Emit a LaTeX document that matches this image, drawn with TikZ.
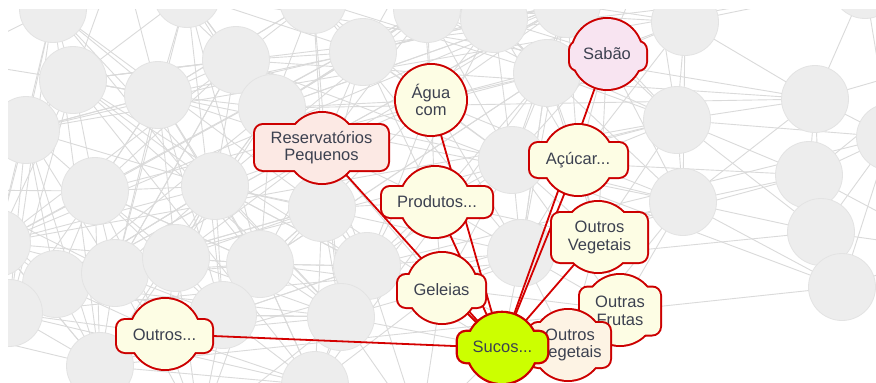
\documentclass[tikz,border=0pt]{standalone}
\usepackage{fontspec}
\setmainfont{Liberation Sans}
\usetikzlibrary{calc}
\definecolor{gfill}{HTML}{EDEDED}
\definecolor{gline}{HTML}{E3E3E3}
\definecolor{gedge}{HTML}{DADADA}
\definecolor{hlred}{HTML}{CC0000}
\definecolor{redge}{HTML}{D40000}
\definecolor{txtcol}{HTML}{3C4150}
\definecolor{fyellow}{HTML}{FDFDE4}
\definecolor{fpink}{HTML}{FCE9E4}
\definecolor{flilac}{HTML}{F8E4F1}
\definecolor{fpeach}{HTML}{FDF3E4}
\definecolor{fsucos}{HTML}{CCFF00}
\tikzset{
  grayedge/.style={draw=gedge, line width=0.9pt},
  graynode/.style={circle, minimum size=67pt, inner sep=0pt, fill=gfill, draw=gline, line width=0.8pt},
  rededge/.style={draw=redge, line width=1.8pt},
  hltext/.style={font=\fontsize{16.5}{17.5}\selectfont, text=txtcol, align=center, inner sep=0pt},
}
% #1 name, #2 box centre x, #3 box centre y, #4 half width, #5 half height, #6 fill, #7 border width
\newcommand\hlshape[7]{%
  \path[draw=hlred, line width=#7] (#1) circle[radius=35pt];
  \path[draw=hlred, line width=#7, rounded corners=8pt] ({#2-#4},{#3-#5}) rectangle ({#2+#4},{#3+#5});
  \path[fill=#6] (#1) circle[radius=35pt];
  \path[fill=#6, rounded corners=8pt] ({#2-#4},{#3-#5}) rectangle ({#2+#4},{#3+#5});
}
\def\glist{1/53/9,2/187/-6,3/73/80,4/158/95,5/236/60,6/272/108,7/26/130,8/95/191,9/215/186,10/-3/243,11/56/284,12/115/273,13/176/258,14/260/264,15/223/315,16/100/366,17/9/313,18/313/0,19/363/52,20/427/9,21/494/19,22/547/73,23/567/4,24/322/208,25/367/266,26/341/317,27/315/385,28/512/160,29/521/253,30/685/22,31/677/120,32/683/202,33/815/99,34/809/175,35/821/232,36/842/287,37/890/137,38/865/-15}
\def\olist{39/120/-50,40/420/-50,41/-50/60,42/-50/190,43/-50/330,44/200/430,45/650/-50,46/950/60,47/950/250,48/420/430,51/607/54,52/431/100,53/322/148,54/578/160,55/435/202,56/598/237,57/442/288,58/620/310,59/568/345,60/502/348,61/165/334}
\edef\alllist{\glist,\olist}
\begin{document}
\begin{tikzpicture}[x=1pt,y=-1pt]
\useasboundingbox (0,0) rectangle (876,383);
\fill[white] (0,0) rectangle (876,383);
\foreach \n/\a/\b in \alllist {\coordinate (g\n) at (\a,\b);}
% highlighted node centres
\coordinate (sabao) at (607,54);
\coordinate (agua) at (431,100);
\coordinate (reserv) at (322,148);
\coordinate (acucar) at (578,160);
\coordinate (produtos) at (435,202);
\coordinate (ovega) at (598,237);
\coordinate (geleias) at (442,288);
\coordinate (ofrutas) at (620,310);
\coordinate (ovegb) at (568,345);
\coordinate (sucos) at (502,348);
\coordinate (outros) at (165,334);
\begin{scope}
\clip (8,9) rectangle (876,383);
% background network
\foreach \i/\xa/\ya in \alllist {
  \foreach \j/\xb/\yb in \alllist {
    \ifnum\j>\i
      \pgfmathsetmacro\dd{veclen(((\xa)-(\xb))/100,((\ya)-(\yb))/100)}
      \ifdim\dd pt<1.85pt
        \draw[grayedge] (g\i) -- (g\j);
      \fi
    \fi
  }
}
\pgfmathsetseed{11}
\foreach \k in {1,...,45} {
  \pgfmathtruncatemacro\ra{random(1,38)}
  \pgfmathtruncatemacro\rb{random(1,38)}
  \draw[grayedge] (g\ra) -- (g\rb);
}
\pgfmathsetseed{23}
\foreach \k in {1,...,70} {
  \pgfmathtruncatemacro\ra{random(1,27)}
  \pgfmathtruncatemacro\rb{random(1,29)}
  \draw[grayedge] (g\ra) -- (g\rb);
}
\foreach \n/\a/\b in \glist {\node[graynode] (c\n) at (g\n) {};}
% red connectors
\draw[rededge] (sabao) -- (sucos);
\draw[rededge] (acucar) -- (sucos);
\draw[rededge] (agua) -- (sucos);
\draw[rededge] (produtos) -- (sucos);
\draw[rededge] (reserv) -- (sucos);
\draw[rededge] (geleias) -- (sucos);
\draw[rededge] (ovega) -- (sucos);
\draw[rededge] (ofrutas) -- (sucos);
\draw[rededge] (ovegb) -- (sucos);
\draw[rededge] (outros) -- (sucos);
% highlighted nodes
\hlshape{sabao}{608}{56}{38}{14}{flilac}{4pt}
\node[hltext] (tsabao) at (sabao) {Sabão};
\hlshape{agua}{431}{100}{0}{0}{fyellow}{4pt}
\node[hltext] (tagua) at (agua) {Água\\com};
\hlshape{reserv}{321.5}{147.5}{66.5}{22.5}{fpink}{4pt}
\node[hltext] (treserv) at (321.5,147.5) {Reservatórios\\Pequenos};
\hlshape{acucar}{578.5}{160}{48.5}{17}{fyellow}{4pt}
\node[hltext] (tacucar) at (acucar) {Açúcar...};
\hlshape{produtos}{437}{202}{55}{15}{fyellow}{4pt}
\node[hltext] (tprodutos) at (437,202) {Produtos...};
\hlshape{ovega}{599.5}{237.5}{47.5}{24.5}{fyellow}{4pt}
\node[hltext] (tovega) at (599.5,237.5) {Outros\\Vegetais};
\hlshape{geleias}{441.5}{291}{43.5}{16}{fyellow}{4pt}
\node[hltext] (tgeleias) at (441.5,290) {Geleias};
\hlshape{ofrutas}{620}{311}{40}{23.5}{fyellow}{4pt}
\node[hltext] (tofrutas) at (620,311) {Outras\\Frutas};
\hlshape{ovegb}{570}{345}{40}{22}{fpeach}{4pt}
\node[hltext] (tovegb) at (570,345) {Outros\\Vegetais};
\hlshape{outros}{164.5}{336}{47.5}{16}{fyellow}{4pt}
\node[hltext] (toutros) at (164.5,335) {Outros...};
\hlshape{sucos}{502.5}{347}{44.5}{15}{fsucos}{4.6pt}
\node[hltext] (tsucos) at (502.5,347) {Sucos...};
\end{scope}
\end{tikzpicture}
\end{document}
